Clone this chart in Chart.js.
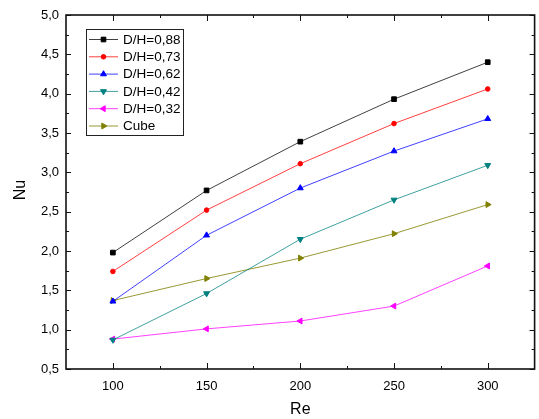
<!DOCTYPE html>
<html><head><meta charset="utf-8">
<script src="https://cdn.jsdelivr.net/npm/chart.js@4/dist/chart.umd.min.js"></script>
<style>html,body{margin:0;padding:0;background:#fff}</style>
</head><body>
<canvas id="c" width="539" height="419"></canvas>
<script>
const reValues = [100, 150, 200, 250, 300];
const dh088 = [1.98, 2.77, 3.39, 3.93, 4.40];
const dh073 = [1.74, 2.52, 3.11, 3.62, 4.06];
const dh062 = [1.36, 2.20, 2.80, 3.27, 3.68];
const dh042 = [0.87, 1.46, 2.15, 2.65, 3.09];
const dh032 = [0.88, 1.01, 1.11, 1.30, 1.81];
const cube  = [1.37, 1.65, 1.91, 2.22, 2.59];
const seriesLabels = ['D/H=0,88', 'D/H=0,73', 'D/H=0,62', 'D/H=0,42', 'D/H=0,32', 'Cube'];
const xTicks = [100, 150, 200, 250, 300];
const yTicks = [0.5, 1.0, 1.5, 2.0, 2.5, 3.0, 3.5, 4.0, 4.5, 5.0];
const xTitle = 'Re';
const yTitle = 'Nu';

const FONT = '"Liberation Sans", Arial, sans-serif';
const styles = [
  {color: '#000000', line: 'rgba(0,0,0,0.75)', pointStyle: 'rect', rotation: 0, radius: 3.3},
  {color: '#ff0000', line: 'rgba(255,0,0,0.75)', pointStyle: 'circle', rotation: 0, radius: 2.3},
  {color: '#0000ff', line: 'rgba(0,0,255,0.75)', pointStyle: 'triangle', rotation: 0, radius: 3.4},
  {color: '#008080', line: 'rgba(0,128,128,0.75)', pointStyle: 'triangle', rotation: 180, radius: 3.4},
  {color: '#ff00ff', line: 'rgba(255,0,255,0.75)', pointStyle: 'triangle', rotation: -90, radius: 3.4},
  {color: '#808000', line: 'rgba(128,128,0,0.8)', pointStyle: 'triangle', rotation: 90, radius: 3.4}
];
const seriesValues = [dh088, dh073, dh062, dh042, dh032, cube];

const datasets = seriesValues.map((vals, i) => ({
  label: seriesLabels[i],
  data: reValues.map((x, j) => ({x: x, y: vals[j]})),
  borderColor: styles[i].line,
  backgroundColor: styles[i].color,
  pointBorderColor: styles[i].color,
  borderWidth: 1,
  pointStyle: styles[i].pointStyle,
  rotation: styles[i].rotation,
  pointRadius: styles[i].radius,
  pointBorderWidth: 1,
  pointHoverRadius: styles[i].radius,
  tension: 0,
  fill: false
}));

function fmt(v) { return v.toFixed(1).replace('.', ','); }

function drawMarker(ctx, st, x, y) {
  if (Chart.helpers && Chart.helpers.drawPoint) {
    Chart.helpers.drawPoint(ctx, {pointStyle: st.pointStyle, rotation: st.rotation, radius: st.radius, borderWidth: 1}, x, y);
  }
}

const decor = {
  id: 'decor',
  afterDatasetsDraw(chart) {
    const {ctx, chartArea: a, scales: {x, y}} = chart;
    ctx.save();
    // frame
    ctx.strokeStyle = '#111';
    ctx.lineWidth = 1.6;
    ctx.strokeRect(a.left, a.top, a.right - a.left, a.bottom - a.top);
    // ticks (inward, mirrored)
    ctx.lineWidth = 1;
    ctx.beginPath();
    const xMax = x.max;
    for (let k = 0; k < xTicks.length; k++) {
      const v = xTicks[k];
      const px = Math.round(x.getPixelForValue(v)) + 0.5;
      ctx.moveTo(px, a.bottom); ctx.lineTo(px, a.bottom - 6);
      ctx.moveTo(px, a.top); ctx.lineTo(px, a.top + 6);
      const vm = v + (xTicks[1] - xTicks[0]) / 2;
      if (vm < xMax) {
        const pm = Math.round(x.getPixelForValue(vm)) + 0.5;
        ctx.moveTo(pm, a.bottom); ctx.lineTo(pm, a.bottom - 3);
        ctx.moveTo(pm, a.top); ctx.lineTo(pm, a.top + 3);
      }
    }
    for (let k = 0; k < yTicks.length; k++) {
      const v = yTicks[k];
      const py = Math.round(y.getPixelForValue(v)) + 0.5;
      ctx.moveTo(a.left, py); ctx.lineTo(a.left + 5, py);
      ctx.moveTo(a.right, py); ctx.lineTo(a.right - 5, py);
      if (k < yTicks.length - 1) {
        const vm = (yTicks[k] + yTicks[k + 1]) / 2;
        const pm = Math.round(y.getPixelForValue(vm)) + 0.5;
        ctx.moveTo(a.left, pm); ctx.lineTo(a.left + 3, pm);
        ctx.moveTo(a.right, pm); ctx.lineTo(a.right - 3, pm);
      }
    }
    ctx.stroke();

    // axis titles
    ctx.fillStyle = '#000';
    ctx.font = '16px ' + FONT;
    ctx.textAlign = 'center';
    ctx.textBaseline = 'middle';
    ctx.fillText(xTitle, (a.left + a.right) / 2, 410);
    ctx.save();
    ctx.translate(21, (a.top + a.bottom) / 2 - 2);
    ctx.rotate(-Math.PI / 2);
    ctx.fillText(yTitle, 0, 0);
    ctx.restore();

    // legend
    const lx = 86.5, ly = 29.5, lw = 97, lh = 106;
    ctx.fillStyle = '#fff';
    ctx.fillRect(lx, ly, lw, lh);
    ctx.strokeStyle = '#222';
    ctx.lineWidth = 1;
    ctx.strokeRect(lx, ly, lw, lh);
    ctx.font = '13.5px ' + FONT;
    ctx.textAlign = 'left';
    ctx.textBaseline = 'middle';
    for (let i = 0; i < seriesLabels.length; i++) {
      const cy = 39.5 + i * 17.3;
      const st = styles[i];
      ctx.strokeStyle = st.line;
      ctx.lineWidth = 1;
      ctx.beginPath();
      ctx.moveTo(89, cy); ctx.lineTo(118, cy);
      ctx.stroke();
      ctx.strokeStyle = st.color;
      ctx.fillStyle = st.color;
      drawMarker(ctx, st, 103.5, cy);
      ctx.fillStyle = '#000';
      ctx.fillText(seriesLabels[i], 123, cy + 0.5);
    }
    ctx.restore();
  }
};

new Chart(document.getElementById('c'), {
  type: 'line',
  data: {datasets: datasets},
  options: {
    responsive: false,
    animation: false,
    layout: {padding: {top: 15, right: 4, left: 0, bottom: 0}},
    plugins: {legend: {display: false}, tooltip: {enabled: false}},
    scales: {
      x: {
        type: 'linear', min: 75, max: 325,
        grid: {display: false, drawTicks: false},
        border: {display: false},
        afterBuildTicks: s => { s.ticks = xTicks.map(v => ({value: v})); },
        afterFit: s => { s.height = 50; },
        ticks: {padding: 10, color: '#000', font: {family: FONT, size: 13}, callback: v => String(v), maxRotation: 0, autoSkip: false}
      },
      y: {
        type: 'linear', min: 0.5, max: 5.0,
        grid: {display: false, drawTicks: false},
        border: {display: false},
        afterBuildTicks: s => { s.ticks = yTicks.map(v => ({value: v})); },
        afterFit: s => { s.width = 66; },
        ticks: {padding: 7, color: '#000', font: {family: FONT, size: 13}, callback: v => fmt(v), autoSkip: false}
      }
    }
  },
  plugins: [decor]
});
</script>
</body></html>
